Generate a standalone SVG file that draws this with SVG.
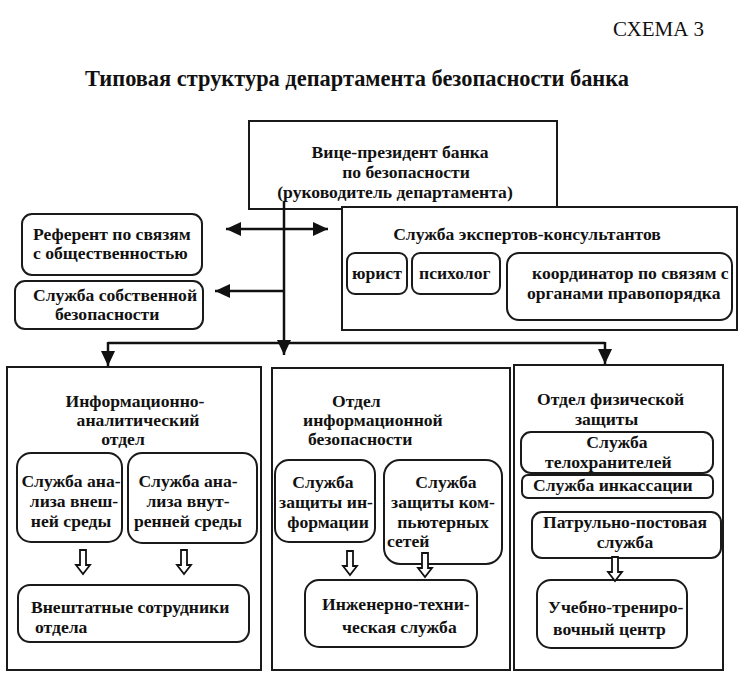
<svg xmlns="http://www.w3.org/2000/svg" width="752" height="675" viewBox="0 0 752 675">
<style>
.bg{fill:#fff}
.box{fill:#fff;stroke:#1a1a1a;stroke-width:2}
.t{font-family:"Liberation Serif","Times New Roman",serif;font-weight:bold;font-size:17.6px;fill:#111}
.m{text-anchor:middle}
.ln{stroke:#111;stroke-width:2.5;fill:none}
.hol{fill:#fff;stroke:#111;stroke-width:1.8}
</style>
<defs>
<marker id="ah" markerUnits="userSpaceOnUse" markerWidth="16" markerHeight="14" refX="15" refY="7" orient="auto-start-reverse">
<path d="M0,0 L15,7 L0,14 Z" fill="#111"/>
</marker>
<path id="hollow" d="M-3,0 H3 V15 H7 L0,24 L-7,15 H-3 Z"/>
</defs>
<rect class="bg" x="0" y="0" width="752" height="675"/>

<text x="613" y="36" style="font-family:'Liberation Serif','Times New Roman',serif;font-size:21px;fill:#111">СХЕМА 3</text>
<text x="357" y="86" class="t m" style="font-size:22.4px">Типовая структура департамента безопасности банка</text>

<g id="vp">
<rect class="box" x="249" y="121" width="308" height="88"/>
<text class="t m" x="400" y="158">Вице-президент банка</text>
<text class="t m" x="406" y="178">по безопасности</text>
<text class="t m" x="395" y="198">(руководитель департамента)</text>
</g>

<g id="referent">
<rect class="box" x="22" y="214" width="180" height="61" rx="10"/>
<text class="t" x="33" y="240">Референт по связям</text>
<text class="t" x="33" y="259">с общественностью</text>
</g>

<g id="own-security">
<rect class="box" x="15" y="281" width="188" height="48" rx="10"/>
<text class="t" x="33" y="301">Служба собственной</text>
<text class="t" x="55" y="320">безопасности</text>
</g>

<g id="experts">
<rect class="box" x="342" y="207" width="395" height="123"/>
<text class="t m" x="527" y="240">Служба экспертов-консультантов</text>
<g id="lawyer">
<rect class="box" x="347" y="253" width="60" height="41" rx="8"/>
<text class="t" x="352" y="279">юрист</text>
</g>
<g id="psych">
<rect class="box" x="412" y="253" width="88" height="41" rx="8"/>
<text class="t" x="419" y="279">психолог</text>
</g>
<g id="coord">
<rect class="box" x="507" y="253" width="225" height="67" rx="12"/>
<text class="t" x="532" y="279">координатор по связям с</text>
<text class="t" x="527" y="299">органами правопорядка</text>
</g>
</g>

<g id="dept-info-analytic">
<rect class="box" x="7" y="367" width="254" height="303"/>
<text class="t m" x="135" y="407">Информационно-</text>
<text class="t m" x="138" y="426">аналитический</text>
<text class="t m" x="123" y="445">отдел</text>
<g id="ext-env">
<rect class="box" x="17" y="453" width="105" height="89" rx="14"/>
<text class="t m" x="71" y="487">Служба ана-</text>
<text class="t m" x="74" y="507">лиза внеш-</text>
<text class="t m" x="71" y="527">ней среды</text>
</g>
<g id="int-env">
<rect class="box" x="128" y="453" width="129" height="90" rx="14"/>
<text class="t m" x="188" y="487">Служба ана-</text>
<text class="t m" x="188" y="507">лиза внут-</text>
<text class="t m" x="188" y="527">ренней среды</text>
</g>
<g id="freelance">
<rect class="box" x="18" y="585" width="231" height="57" rx="12"/>
<text class="t" x="31" y="613">Внештатные сотрудники</text>
<text class="t" x="35" y="633">отдела</text>
</g>
</g>

<g id="dept-infosec">
<rect class="box" x="272" y="368" width="238" height="302"/>
<text class="t" x="332" y="407">Отдел</text>
<text class="t" x="303" y="426">информационной</text>
<text class="t" x="308" y="445">безопасности</text>
<g id="info-protect">
<rect class="box" x="275" y="460" width="100" height="82" rx="14"/>
<text class="t m" x="323" y="488">Служба</text>
<text class="t m" x="326" y="508">защиты ин-</text>
<text class="t m" x="328" y="528">формации</text>
</g>
<g id="net-protect">
<rect class="box" x="384" y="460" width="118" height="104" rx="16"/>
<text class="t m" x="446" y="488">Служба</text>
<text class="t m" x="443" y="508">защиты ком-</text>
<text class="t m" x="443" y="528">пьютерных</text>
<text class="t" x="387" y="547">сетей</text>
</g>
<g id="eng-tech">
<rect class="box" x="305" y="580" width="172" height="67" rx="14"/>
<text class="t" x="322" y="610">Инженерно-техни-</text>
<text class="t" x="342" y="633">ческая служба</text>
</g>
</g>

<g id="dept-physical">
<rect class="box" x="514" y="365" width="209" height="305"/>
<text class="t" x="537" y="405">Отдел физической</text>
<text class="t" x="575" y="425">защиты</text>
<g id="bodyguards">
<rect class="box" x="521" y="432" width="192" height="41" rx="10"/>
<text class="t m" x="617" y="448">Служба</text>
<text class="t" x="545" y="468">телохранителей</text>
</g>
<g id="collection">
<rect class="box" x="522" y="475" width="191" height="23" rx="6"/>
<text class="t" x="533" y="491">Служба инкассации</text>
</g>
<g id="patrol">
<rect class="box" x="532" y="512" width="189" height="46" rx="10"/>
<text class="t" x="543" y="528">Патрульно-постовая</text>
<text class="t m" x="625" y="548">служба</text>
</g>
<g id="training">
<rect class="box" x="537" y="580" width="150" height="68" rx="14"/>
<text class="t" x="548" y="613">Учебно-трениро-</text>
<text class="t" x="553" y="635">вочный центр</text>
</g>
</g>

<g id="connectors">
<line class="ln" x1="284" y1="201" x2="284" y2="355" marker-end="url(#ah)"/>
<line class="ln" x1="108" y1="343" x2="605" y2="343"/>
<line class="ln" x1="108" y1="342" x2="108" y2="366" marker-end="url(#ah)"/>
<line class="ln" x1="605" y1="342" x2="605" y2="364" marker-end="url(#ah)"/>
<line class="ln" x1="226" y1="229" x2="328" y2="229" marker-start="url(#ah)" marker-end="url(#ah)"/>
<line class="ln" x1="284" y1="291" x2="215" y2="291" marker-end="url(#ah)"/>
<use href="#hollow" class="hol" x="83" y="550"/>
<use href="#hollow" class="hol" x="184" y="550"/>
<use href="#hollow" class="hol" x="350" y="551"/>
<use href="#hollow" class="hol" x="425" y="553"/>
<use href="#hollow" class="hol" x="615" y="557"/>
</g>
</svg>
